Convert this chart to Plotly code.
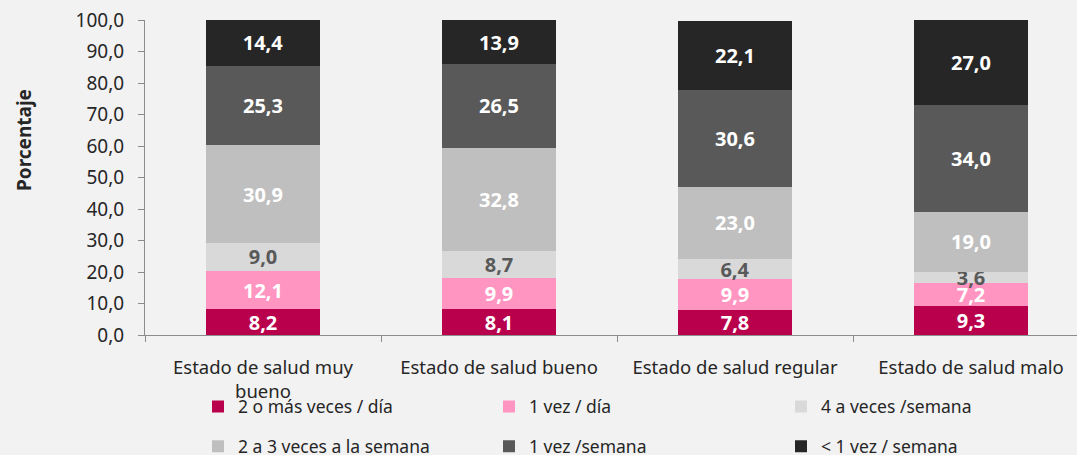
import plotly.graph_objects as go

# Categorías del eje X
categorias = [
    "Estado de salud muy<br>bueno",
    "Estado de salud bueno",
    "Estado de salud regular",
    "Estado de salud malo",
]

# Series de frecuencia (porcentaje)
series_nombres = [
    "2 o más veces / día",
    "1 vez / día",
    "4 a veces /semana",
    "2 a 3 veces a la semana",
    "1 vez /semana",
    "< 1 vez / semana",
]
dos_o_mas_dia = [8.2, 8.1, 7.8, 9.3]
una_vez_dia = [12.1, 9.9, 9.9, 7.2]
cuatro_semana = [9.0, 8.7, 6.4, 3.6]
dos_tres_semana = [30.9, 32.8, 23.0, 19.0]
una_vez_semana = [25.3, 26.5, 30.6, 34.0]
menos_una_semana = [14.4, 13.9, 22.1, 27.0]

valores = [dos_o_mas_dia, una_vez_dia, cuatro_semana,
           dos_tres_semana, una_vez_semana, menos_una_semana]
colores = ["#b8004c", "#ff95c0", "#d9d9d9", "#bfbfbf", "#595959", "#262626"]
color_texto = ["#ffffff", "#ffffff", "#595959", "#ffffff", "#ffffff", "#ffffff"]
# Leyenda en tres columnas: cada columna es una leyenda vertical de dos entradas
columna = ["legend", "legend2", "legend3", "legend", "legend2", "legend3"]

FUENTE = "Noto Sans"
ANCHO, ALTO = 1077, 455
MARGEN_IZQ, MARGEN_SUP, MARGEN_INF = 145, 20, 120
ALTO_PLOT = ALTO - MARGEN_SUP - MARGEN_INF

fig = go.Figure()
for i, (nombre, vals, col, ctxt, lg) in enumerate(
        zip(series_nombres, valores, colores, color_texto, columna)):
    fig.add_trace(go.Bar(
        name=nombre,
        x=categorias,
        y=vals,
        width=0.48,
        marker=dict(color=col, line=dict(width=0)),
        texttemplate="%{y:.1f}",
        textposition="inside",
        insidetextanchor="middle",
        textangle=0,
        textfont=dict(family=FUENTE, size=20, color=ctxt, weight="bold"),
        legend=lg,
        legendgroup=f"g{i}",
        hoverinfo="skip",
    ))


def columna_leyenda(x_px):
    return dict(
        orientation="v",
        xref="container", yref="container",
        xanchor="left", yanchor="middle",
        x=x_px / ANCHO, y=1 - 426.5 / ALTO,
        font=dict(family=FUENTE, size=17.5, color="#262626"),
        bgcolor="rgba(0,0,0,0)",
        tracegroupgap=14,
        itemclick=False,
    )


fig.update_layout(
    width=ANCHO, height=ALTO,
    margin=dict(l=MARGEN_IZQ, r=0, t=MARGEN_SUP, b=MARGEN_INF, autoexpand=False),
    paper_bgcolor="#f2f2f2",
    plot_bgcolor="#f2f2f2",
    barmode="stack",
    separators=",.",
    font=dict(family=FUENTE, color="#262626"),
    uniformtext=dict(mode="show", minsize=20),
    showlegend=True,
    legend=columna_leyenda(198),
    legend2=columna_leyenda(489),
    legend3=columna_leyenda(781),
    xaxis=dict(
        range=[-0.5, 3.5 - 12 / 236],
        showline=True, linecolor="#8c8c8c", linewidth=1,
        ticks="outside", tickson="boundaries", ticklen=6, tickcolor="#8c8c8c",
        ticklabelstandoff=16,
        tickfont=dict(family=FUENTE, size=18.5, color="#262626"),
        showgrid=False, zeroline=False,
        fixedrange=True,
    ),
    yaxis=dict(
        range=[0, 100],
        dtick=10, tick0=0,
        tickformat=".1f",
        showline=True, linecolor="#8c8c8c", linewidth=1,
        ticks="outside", ticklen=6, tickcolor="#8c8c8c",
        ticklabelstandoff=10,
        tickfont=dict(family=FUENTE, size=19, color="#262626"),
        showgrid=False, zeroline=False,
        fixedrange=True,
    ),
    annotations=[dict(
        text="<b>Porcentaje</b>",
        xref="paper", yref="paper",
        x=(24 - MARGEN_IZQ) / (ANCHO - MARGEN_IZQ),
        y=(ALTO - MARGEN_INF - 140) / ALTO_PLOT,
        xanchor="center", yanchor="middle",
        textangle=-90, showarrow=False,
        font=dict(family=FUENTE, size=19, color="#262626"),
    )],
)

fig.write_html("out.html")
